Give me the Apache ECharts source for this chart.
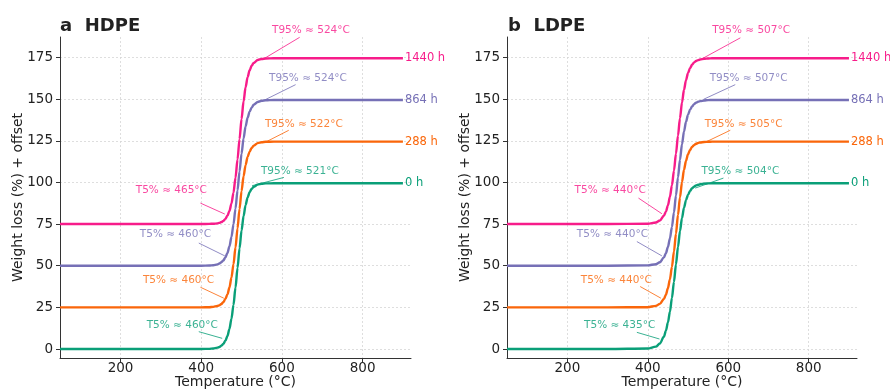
<!DOCTYPE html>
<html>
<head>
<meta charset="utf-8">
<script src="https://cdn.jsdelivr.net/npm/echarts@6/dist/echarts.min.js"></script>
<style>
  html, body { margin: 0; padding: 0; background: #fff; }
  #chart { width: 890px; height: 392px; }
</style>
</head>
<body>
<div id="chart"></div>
<script>
// Temperature grid (°C) shared by every TGA curve
const temps = [50, 100, 200, 300, 400, 420, 430, 440, 445, 450, 455, 460, 465, 470, 475, 480,
  485, 490, 495, 500, 505, 510, 515, 520, 525, 530, 540, 550, 560, 580, 600, 700, 800, 900];

// Weight loss (%) for HDPE after each ageing time
const hdpe0    = [0, 0, 0, 0, 0.0, 0.1, 0.3, 0.8, 1.2, 2.0, 3.1, 5.0, 7.8, 12.1, 18.2, 26.5, 36.9, 48.6, 60.4, 71.1, 79.8, 86.4, 91.0, 94.1, 96.1, 97.4, 98.7, 99.2, 99.4, 99.5, 99.5, 99.5, 99.5, 99.5];
const hdpe288  = [0, 0, 0, 0, 0.0, 0.1, 0.3, 0.8, 1.2, 2.0, 3.2, 5.0, 7.8, 11.9, 17.9, 25.9, 35.9, 47.4, 59.1, 69.8, 78.7, 85.4, 90.3, 93.5, 95.7, 97.1, 98.6, 99.1, 99.4, 99.5, 99.5, 99.5, 99.5, 99.5];
const hdpe864  = [0, 0, 0, 0, 0.0, 0.1, 0.3, 0.8, 1.3, 2.1, 3.2, 5.0, 7.7, 11.6, 17.2, 24.8, 34.3, 45.2, 56.6, 67.3, 76.4, 83.6, 88.8, 92.5, 94.9, 96.6, 98.3, 99.0, 99.3, 99.5, 99.5, 99.5, 99.5, 99.5];
const hdpe1440 = [0, 0, 0, 0, 0.0, 0.1, 0.2, 0.4, 0.7, 1.2, 1.9, 3.1, 5.0, 7.9, 12.4, 18.9, 27.8, 38.8, 51.0, 63.1, 73.7, 82.1, 88.2, 92.3, 95.0, 96.7, 98.5, 99.1, 99.4, 99.5, 99.5, 99.5, 99.5, 99.5];

// Weight loss (%) for LDPE after each ageing time
const ldpe0    = [0, 0, 0, 0, 0.3, 1.4, 3.3, 7.4, 11.0, 15.9, 22.4, 30.6, 40.3, 50.8, 61.2, 70.7, 78.6, 84.8, 89.4, 92.6, 94.9, 96.5, 97.5, 98.2, 98.6, 98.9, 99.3, 99.4, 99.5, 99.5, 99.5, 99.5, 99.5, 99.5];
const ldpe288  = [0, 0, 0, 0, 0.1, 0.9, 2.1, 5.0, 7.6, 11.5, 16.9, 24.3, 33.5, 44.2, 55.4, 66.0, 75.2, 82.6, 88.0, 91.9, 94.5, 96.3, 97.4, 98.2, 98.7, 99.0, 99.3, 99.4, 99.5, 99.5, 99.5, 99.5, 99.5, 99.5];
const ldpe864  = [0, 0, 0, 0, 0.2, 0.9, 2.1, 5.0, 7.5, 11.2, 16.4, 23.3, 32.0, 42.2, 53.0, 63.6, 73.0, 80.6, 86.4, 90.7, 93.6, 95.6, 97.0, 97.9, 98.4, 98.8, 99.2, 99.4, 99.5, 99.5, 99.5, 99.5, 99.5, 99.5];
const ldpe1440 = [0, 0, 0, 0, 0.2, 0.9, 2.1, 5.0, 7.5, 11.2, 16.4, 23.3, 32.0, 42.2, 53.0, 63.6, 73.0, 80.6, 86.4, 90.7, 93.6, 95.6, 97.0, 97.9, 98.4, 98.8, 99.2, 99.4, 99.5, 99.5, 99.5, 99.5, 99.5, 99.5];

// Ageing times, vertical offsets and colours (bottom to top)
const ageLabels = ['0 h', '288 h', '864 h', '1440 h'];
const offsets = [0, 25, 50, 75];
const colors = ['#0a9f78', '#fa660a', '#7670b6', '#f71c8a'];

// Characteristic temperatures (°C), bottom to top
const hdpeT5  = [460, 460, 460, 465];
const hdpeT95 = [521, 522, 524, 524];
const ldpeT5  = [435, 440, 440, 440];
const ldpeT95 = [504, 505, 507, 507];

// Annotation placement in data space: [textT, textY, lineStartT, lineStartY, lineEndT, lineEndY]
const hdpeT5Place = [
  [353, 14, 394, 10.4, 452, 6.4],
  [343.7, 41.5, 398, 37.1, 456, 30.5],
  [336, 68.6, 394, 63.6, 458.5, 55.9],
  [326, 95.2, 398, 87.6, 458.5, 81]
];
const hdpeT95Place = [
  [644.4, 106.6, 605, 103, 526, 98],
  [654.3, 134.7, 617, 131.3, 563.6, 124.7],
  [664.7, 162.8, 634, 158.7, 559, 149.7],
  [672, 191.2, 644, 187.1, 555, 174.2]
];
const ldpeT5Place = [
  [330, 14, 372.8, 10, 429, 6],
  [321.8, 41.5, 381, 37.5, 432.6, 30.5],
  [312, 68.6, 372.8, 64.5, 435, 55.9],
  [306.4, 95.2, 376.8, 90.6, 435, 81.2]
];
const ldpeT95Place = [
  [630, 106.6, 588, 102.6, 518, 96.6],
  [638, 134.7, 605, 131.3, 542.8, 124.1],
  [650.6, 162.8, 617.4, 158.7, 538.6, 149.9],
  [656.8, 191.2, 630, 186.8, 534.6, 174.2]
];

// Axis ticks
const xTicks = [200, 400, 600, 800];
const yTicks = [0, 25, 50, 75, 100, 125, 150, 175];

const FONT = 'DejaVu Sans';
const chart = echarts.init(document.getElementById('chart'), null, { renderer: 'canvas' });

function axisPair(gridIndex) {
  const x = {
    type: 'value', gridIndex, min: 50, max: 920,
    name: 'Temperature (°C)', nameLocation: 'middle', nameGap: 17, nameMoveOverlap: false,
    nameTextStyle: { fontFamily: FONT, fontSize: 14, color: '#222' },
    axisLine: { show: true, onZero: false, lineStyle: { color: '#333', width: 1 } },
    axisTick: { show: true, length: 4, customValues: xTicks, lineStyle: { color: '#333' } },
    axisLabel: { customValues: xTicks, fontFamily: FONT, fontSize: 13.5, color: '#222', margin: 3 },
    splitLine: { show: true, lineStyle: { color: '#d6d6d6', width: 0.8, type: [2, 2] } }
  };
  const y = {
    type: 'value', gridIndex, min: -5.4, max: 187.3,
    name: 'Weight loss (%) + offset', nameLocation: 'middle', nameGap: 35, nameMoveOverlap: false,
    nameTextStyle: { fontFamily: FONT, fontSize: 14, color: '#222' },
    axisLine: { show: true, onZero: false, lineStyle: { color: '#333', width: 1 } },
    axisTick: { show: true, length: 4, customValues: yTicks, lineStyle: { color: '#333' } },
    axisLabel: { customValues: yTicks, fontFamily: FONT, fontSize: 13.5, color: '#222', margin: 7 },
    splitLine: { show: true, lineStyle: { color: '#d6d6d6', width: 0.8, type: [2, 2] } }
  };
  return [x, y];
}

function panelSeries(gridIndex, curves, t5, t95, t5Place, t95Place) {
  const out = [];
  const texts = [];
  curves.forEach((vals, i) => {
    const c = colors[i];
    const p5 = t5Place[i], p95 = t95Place[i];
    out.push({
      type: 'line', name: ageLabels[i], xAxisIndex: gridIndex, yAxisIndex: gridIndex,
      data: temps.map((t, k) => [t, vals[k] + offsets[i]]),
      showSymbol: false, smooth: 0.3, smoothMonotone: 'x', clip: false,
      lineStyle: { color: c, width: 2.4 }, itemStyle: { color: c },
      endLabel: { show: true, formatter: ageLabels[i], color: c, fontFamily: FONT, fontSize: 11.5, distance: 2 },
      markLine: {
        silent: true, symbol: ['none', 'none'], label: { show: false },
        lineStyle: { color: c, width: 0.9, type: 'solid', opacity: 0.9 },
        emphasis: { disabled: true },
        data: [
          [{ coord: [p5[2], p5[3]] }, { coord: [p5[4], p5[5]] }],
          [{ coord: [p95[2], p95[3]] }, { coord: [p95[4], p95[5]] }]
        ]
      },
      z: 2 + i
    });
    texts.push({ value: [p5[0], p5[1]], name: 'T5% ≈ ' + t5[i] + '°C', label: { color: c } });
    texts.push({ value: [p95[0], p95[1]], name: 'T95% ≈ ' + t95[i] + '°C', label: { color: c } });
  });
  out.push({
    type: 'scatter', xAxisIndex: gridIndex, yAxisIndex: gridIndex, clip: false, silent: true,
    symbolSize: 0, data: texts, z: 10,
    label: { show: true, position: 'inside', formatter: '{b}', fontFamily: FONT, fontSize: 10.5 }
  });
  return out;
}

const [x0, y0] = axisPair(0);
const [x1, y1] = axisPair(1);

chart.setOption({
  animation: false,
  backgroundColor: '#fff',
  title: [
    { text: 'a  HDPE', left: 55, top: 12, textStyle: { fontFamily: FONT, fontSize: 18, fontWeight: 'bold', color: '#222' } },
    { text: 'b  LDPE', left: 503, top: 12, textStyle: { fontFamily: FONT, fontSize: 18, fontWeight: 'bold', color: '#222' } }
  ],
  grid: [
    { left: 60, top: 37, width: 351, height: 321, outerBoundsMode: 'none', containLabel: false },
    { left: 507, top: 37, width: 350, height: 321, outerBoundsMode: 'none', containLabel: false }
  ],
  xAxis: [x0, x1],
  yAxis: [y0, y1],
  series: [
    ...panelSeries(0, [hdpe0, hdpe288, hdpe864, hdpe1440], hdpeT5, hdpeT95, hdpeT5Place, hdpeT95Place),
    ...panelSeries(1, [ldpe0, ldpe288, ldpe864, ldpe1440], ldpeT5, ldpeT95, ldpeT5Place, ldpeT95Place)
  ]
});
</script>
</body>
</html>
